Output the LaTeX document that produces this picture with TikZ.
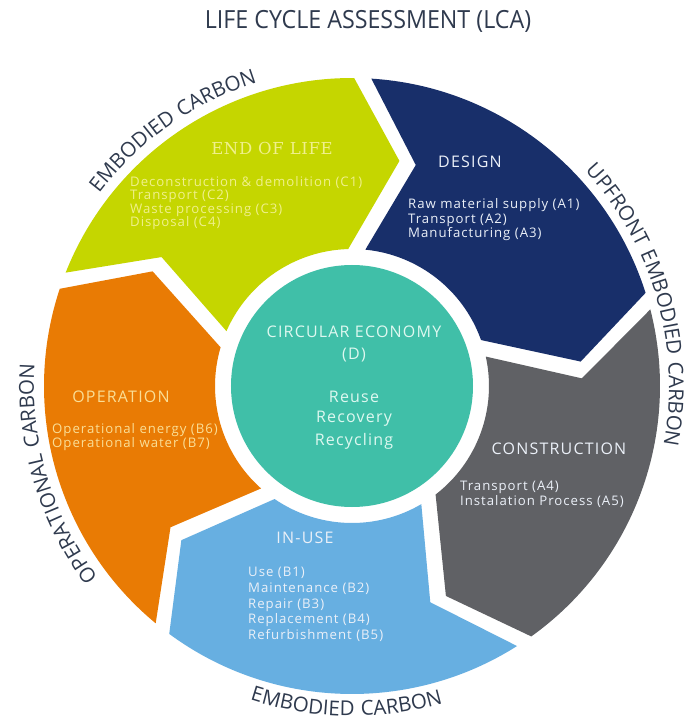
\documentclass[tikz,border=0pt]{standalone}
\usepackage{fontspec}
\setmainfont{Open Sans}
\newfontfamily\headfont{Open Sans}[LetterSpace=7.5]
\newfontfamily\listfont{Open Sans}[LetterSpace=7.5]
\newfontfamily\arcfam{Open Sans}[LetterSpace=6]
\newfontfamily\eolfont{DejaVu Serif}[LetterSpace=4]
\usetikzlibrary{decorations.text}

\definecolor{lcagreen}{RGB}{197,214,0}
\definecolor{lcanavy}{RGB}{24,47,106}
\definecolor{lcagrey}{RGB}{96,97,101}
\definecolor{lcasky}{RGB}{103,175,225}
\definecolor{lcaorange}{RGB}{233,123,4}
\definecolor{lcateal}{RGB}{64,191,168}
\definecolor{lcaink}{RGB}{47,58,78}
\definecolor{lcayellow}{RGB}{240,240,140}
\definecolor{lcacream}{RGB}{250,222,150}
\definecolor{lcapale}{RGB}{235,240,248}
\definecolor{lcamint}{RGB}{222,248,240}

\newcommand\arcfont{\arcfam\fontsize{20.5}{24}\selectfont\color{lcaink}}

\tikzset{
  seghead/.style={font=\headfont\fontsize{16}{18}\selectfont, inner sep=0},
  seglist/.style={font=\listfont\fontsize{13.2}{14.5}\selectfont, align=left, anchor=west, inner sep=0},
  ecotext/.style={font=\headfont\fontsize{16}{18}\selectfont, text=lcamint, inner sep=0},
  arclabel/.style={decorate, decoration={text along path, text align=center, text={#1}}}
}

\begin{document}
\begin{tikzpicture}[x=1pt,y=1pt]
  \useasboundingbox (-352,-331) rectangle (342,386);
  \fill[white] (-352,-331) rectangle (342,386);

  % five chevron segments, clockwise
  \foreach \s/\c in {160/lcagreen, 88/lcanavy, 16/lcagrey, -56/lcasky, -128/lcaorange}
    \fill[\c] ({\s-1.6}:308) arc[start angle=\s-1.6, end angle=\s-70.4, radius=308]
      -- ({\s-81.9}:230) -- ({\s-68.4}:137)
      arc[start angle=\s-68.4, end angle=\s-3.6, radius=137]
      -- ({\s-14.1}:230) -- cycle;
  \fill[lcateal] (0,0) circle[radius=121];

  \node (title) at (16,365) {\scalebox{0.93}[1]{\fontsize{25}{28}\selectfont\color{lcaink}LIFE CYCLE ASSESSMENT (LCA)}};

  \node[inner sep=0, font=\eolfont\fontsize{16.5}{18}\selectfont, text=lcayellow] (eol) at (-80,238) {END OF LIFE};
  \node[seglist, text=lcayellow, font=\listfont\fontsize{13.2}{13.6}\selectfont] (eollist) at (-222,183)
    {Deconstruction \& demolition (C1)\\Transport (C2)\\Waste processing (C3)\\Disposal (C4)};

  \node[seghead, text=lcapale] (design) at (118,224) {DESIGN};
  \node[seglist, text=lcapale] (designlist) at (56,166)
    {Raw material supply (A1)\\Transport (A2)\\Manufacturing (A3)};

  \node[seghead, text=lcapale] (constr) at (207,-63) {CONSTRUCTION};
  \node[seglist, text=lcapale] (constrlist) at (108,-108.5)
    {Transport (A4)\\Instalation Process (A5)};

  \node[seghead, text=lcapale] (inuse) at (-47,-152) {IN-USE};
  \node[seglist, text=lcapale, font=\listfont\fontsize{13.2}{15.7}\selectfont] (inuselist) at (-104,-218.4)
    {Use (B1)\\Maintenance (B2)\\Repair (B3)\\Replacement (B4)\\Refurbishment (B5)};

  \node[seghead, text=lcacream] (oper) at (-231,-11) {OPERATION};
  \node[seglist, text=lcacream, font=\listfont\fontsize{13.2}{14}\selectfont] (operlist) at (-300,-51)
    {Operational energy (B6)\\Operational water (B7)};

  \node[ecotext] (eco) at (2,54) {CIRCULAR ECONOMY};
  \node[ecotext] (ecod) at (2,31) {(D)};
  \node[ecotext] (reuse) at (2,-11) {Reuse};
  \node[ecotext] (recovery) at (2,-33) {Recovery};
  \node[ecotext] (recycling) at (2,-55) {Recycling};

  % carbon labels round the ring
  \path[arclabel={|\arcfont|EMBODIED CARBON}] (160:318) arc[start angle=160, end angle=90, radius=318];
  \path[arclabel={|\arcfont|UPFRONT EMBODIED CARBON}] (61:317) arc[start angle=61, end angle=-29, radius=317];
  \path[arclabel={|\arcfont|EMBODIED CARBON}] (-131:330) arc[start angle=-131, end angle=-51, radius=330];
  \path[arclabel={|\arcfont|OPERATIONAL CARBON}] (241:318) arc[start angle=241, end angle=152, radius=318];
\end{tikzpicture}
\end{document}
